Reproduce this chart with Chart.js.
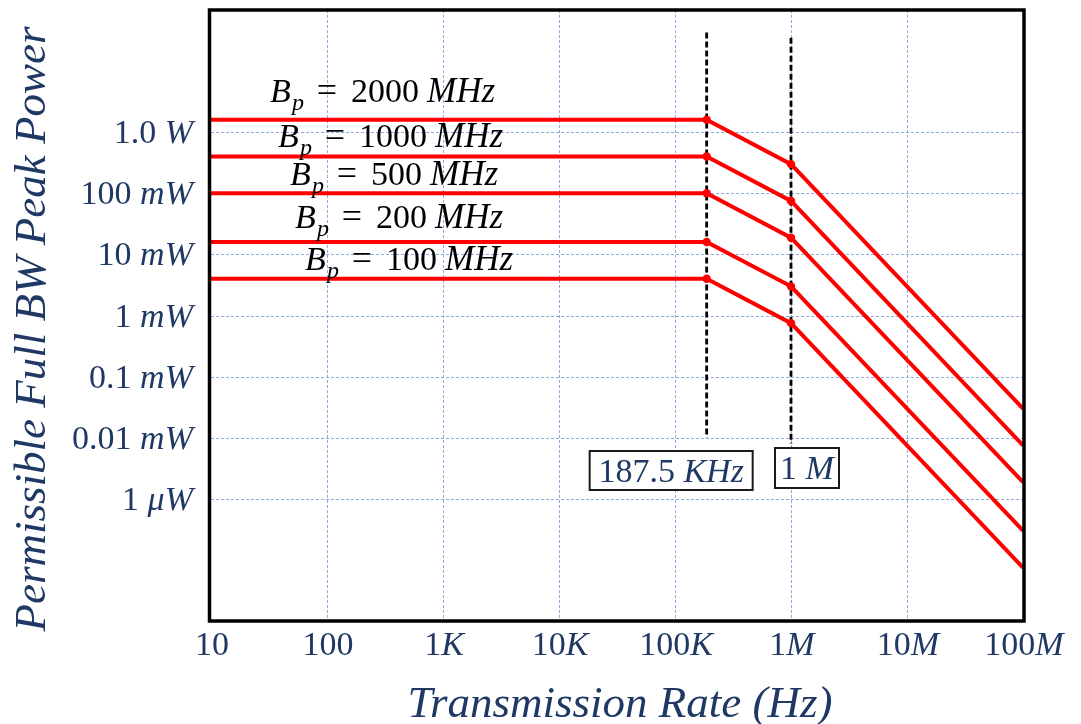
<!DOCTYPE html>
<html>
<head>
<meta charset="utf-8">
<script src="https://cdn.jsdelivr.net/npm/chart.js@4.4.0/dist/chart.umd.min.js"></script>
<style>
  html, body { margin: 0; padding: 0; background: #ffffff; }
  canvas { display: block; }
</style>
</head>
<body>
<canvas id="chart" width="1081" height="724"></canvas>
<script>
// Transmission rate breakpoints (Hz)
const rates = [10, 187500, 1e6, 1e8];

// Permissible full-bandwidth peak power (W) for each pulse bandwidth
const bandwidths = ['2000', '1000', '500', '200', '100'];
const power2000 = [1.6, 1.6, 0.3, 3e-5];
const power1000 = [0.4, 0.4, 0.075, 7.5e-6];
const power500  = [0.1, 0.1, 0.01875, 1.875e-6];
const power200  = [0.016, 0.016, 0.003, 3e-7];
const power100  = [0.004, 0.004, 0.00075, 7.5e-8];

// Axis ticks: [upright part, italic unit part]
const xTickValues = [10, 100, 1e3, 1e4, 1e5, 1e6, 1e7, 1e8];
const xTickLabels = [['10', ''], ['100', ''], ['1', 'K'], ['10', 'K'], ['100', 'K'], ['1', 'M'], ['10', 'M'], ['100', 'M']];
const yTickValues = [1, 0.1, 0.01, 1e-3, 1e-4, 1e-5, 1e-6];
const yTickLabels = [['1.0 ', 'W'], ['100 ', 'mW'], ['10 ', 'mW'], ['1 ', 'mW'], ['0.1 ', 'mW'], ['0.01 ', 'mW'], ['1 ', 'μW']];

// Breakpoint markers (dashed verticals)
const markerRates = [187500, 1e6];
const markerTop = [43, 35];
const markerBottom = [1e-5, 8e-6];
const markerLabels = [['187.5 ', 'KHz'], ['1 ', 'M']];

// ---- presentation ----
const NAVY = '#1f3864';
const FONT = '"Liberation Serif", "Times New Roman", serif';
const seriesList = [power2000, power1000, power500, power200, power100];

// Curve label placement (left x of "B", baseline y)
const curveLabelPos = [
  { x: 270, y: 102 },
  { x: 278, y: 147 },
  { x: 290, y: 185 },
  { x: 295, y: 228 },
  { x: 305, y: 270 }
];
// Marker label boxes: offset from marker x, top, size
const markerBoxes = [
  { dx: -117, top: 451, w: 163, h: 39 },
  { dx: -16, top: 448, w: 64, h: 40 }
];

function font(size, italic) {
  return (italic ? 'italic ' : '') + size + 'px ' + FONT;
}

// Draw a run of text pieces [{t, it}] starting at x (or aligned)
function drawRun(ctx, pieces, x, y, size, align) {
  let total = 0;
  const widths = pieces.map(p => {
    ctx.font = font(size, p.it);
    const w = ctx.measureText(p.t).width;
    total += w;
    return w;
  });
  let cx = x;
  if (align === 'right') cx = x - total;
  else if (align === 'center') cx = x - total / 2;
  ctx.textAlign = 'left';
  pieces.forEach((p, i) => {
    ctx.font = font(size, p.it);
    ctx.fillText(p.t, cx, y);
    cx += widths[i];
  });
  return total;
}

const decorations = {
  id: 'decorations',
  beforeDatasetsDraw(chart) {
    const { ctx, chartArea: a, scales: { x, y } } = chart;
    ctx.save();
    // dashed light-blue grid
    ctx.strokeStyle = '#8eaadf';
    ctx.lineWidth = 1;
    ctx.setLineDash([3, 2]);
    xTickValues.forEach(v => {
      const px = Math.round(x.getPixelForValue(v)) + 0.5;
      if (px <= a.left + 2 || px >= a.right - 2) return;
      ctx.beginPath(); ctx.moveTo(px, a.top); ctx.lineTo(px, a.bottom); ctx.stroke();
    });
    yTickValues.forEach(v => {
      const py = Math.round(y.getPixelForValue(v)) + 0.5;
      ctx.beginPath(); ctx.moveTo(a.left, py); ctx.lineTo(a.right, py); ctx.stroke();
    });
    // breakpoint markers
    ctx.strokeStyle = '#000000';
    ctx.lineWidth = 2.8;
    ctx.setLineDash([6, 3]);
    markerRates.forEach((r, i) => {
      const px = x.getPixelForValue(r);
      ctx.beginPath();
      ctx.moveTo(px, y.getPixelForValue(markerTop[i]));
      ctx.lineTo(px, y.getPixelForValue(markerBottom[i]));
      ctx.stroke();
    });
    ctx.restore();
  },
  afterDraw(chart) {
    const { ctx, chartArea: a, scales: { x, y } } = chart;
    ctx.save();
    ctx.setLineDash([]);
    // plot frame
    ctx.strokeStyle = '#000000';
    ctx.lineWidth = 3.5;
    ctx.strokeRect(a.left - 1.5, a.top, a.right - a.left + 2.5, a.bottom - a.top);

    // tick labels
    ctx.fillStyle = NAVY;
    ctx.textBaseline = 'alphabetic';
    xTickValues.forEach((v, i) => {
      const px = x.getPixelForValue(v);
      const [num, unit] = xTickLabels[i];
      drawRun(ctx, [{ t: num, it: false }, { t: unit, it: true }], px + 1, 655, 34, 'center');
    });
    yTickValues.forEach((v, i) => {
      const py = y.getPixelForValue(v);
      const [num, unit] = yTickLabels[i];
      drawRun(ctx, [{ t: num, it: false }, { t: unit, it: true }], 193, py + 11, 34, 'right');
    });

    // axis titles
    ctx.font = font(45, true);
    ctx.textAlign = 'center';
    ctx.fillText('Transmission Rate (Hz)', (a.left + a.right) / 2 + 3, 717);
    ctx.save();
    ctx.translate(45, 329);
    ctx.rotate(-Math.PI / 2);
    ctx.font = font(45, true);
    ctx.fillText('Permissible Full BW Peak Power', 0, 0);
    ctx.restore();

    // marker label boxes
    markerRates.forEach((r, i) => {
      const px = x.getPixelForValue(r);
      const b = markerBoxes[i];
      const left = px + b.dx;
      ctx.fillStyle = '#ffffff';
      ctx.fillRect(left, b.top, b.w, b.h);
      ctx.strokeStyle = '#1a1a1a';
      ctx.lineWidth = 2;
      ctx.strokeRect(left, b.top, b.w, b.h);
      ctx.fillStyle = NAVY;
      const [num, unit] = markerLabels[i];
      drawRun(ctx, [{ t: num, it: false }, { t: unit, it: true }], left + b.w / 2, b.top + 31, 34, 'center');
    });

    // curve labels: B_p = N MHz
    ctx.fillStyle = '#000000';
    bandwidths.forEach((bw, i) => {
      const p = curveLabelPos[i];
      ctx.textAlign = 'left';
      ctx.font = font(34, true);
      ctx.fillText('B', p.x, p.y);
      ctx.font = font(24, true);
      ctx.fillText('p', p.x + 22, p.y + 8);
      ctx.font = font(36, false);
      ctx.textAlign = 'center';
      ctx.fillText('=', p.x + 57, p.y);
      ctx.font = font(34, false);
      ctx.textAlign = 'left';
      ctx.fillText(bw, p.x + 81, p.y);
      const w = ctx.measureText(bw).width;
      ctx.font = font(35, true);
      ctx.fillText('MHz', p.x + 81 + w + 8, p.y);
    });
    ctx.restore();
  }
};

const datasets = seriesList.map((vals, i) => ({
  label: 'Bp = ' + bandwidths[i] + ' MHz',
  data: rates.map((r, k) => ({ x: r, y: vals[k] })),
  borderColor: '#ff0000',
  backgroundColor: '#ff0000',
  borderWidth: 4,
  pointRadius: [0, 4.2, 4.2, 0],
  pointBorderWidth: 0,
  pointBackgroundColor: '#ff0000',
  tension: 0,
  fill: false
}));

new Chart(document.getElementById('chart'), {
  type: 'line',
  data: { datasets },
  options: {
    responsive: false,
    animation: false,
    events: [],
    layout: { padding: { left: 211, right: 58, top: 10, bottom: 103 } },
    plugins: { legend: { display: false }, tooltip: { enabled: false }, title: { display: false } },
    scales: {
      x: {
        type: 'logarithmic',
        min: 10,
        max: 1e8,
        display: false,
        afterBuildTicks: s => { s.ticks = xTickValues.map(v => ({ value: v })); }
      },
      y: {
        type: 'logarithmic',
        min: 1e-8,
        max: 100,
        display: false,
        afterBuildTicks: s => { s.ticks = yTickValues.map(v => ({ value: v })); }
      }
    }
  },
  plugins: [decorations]
});
</script>
</body>
</html>
